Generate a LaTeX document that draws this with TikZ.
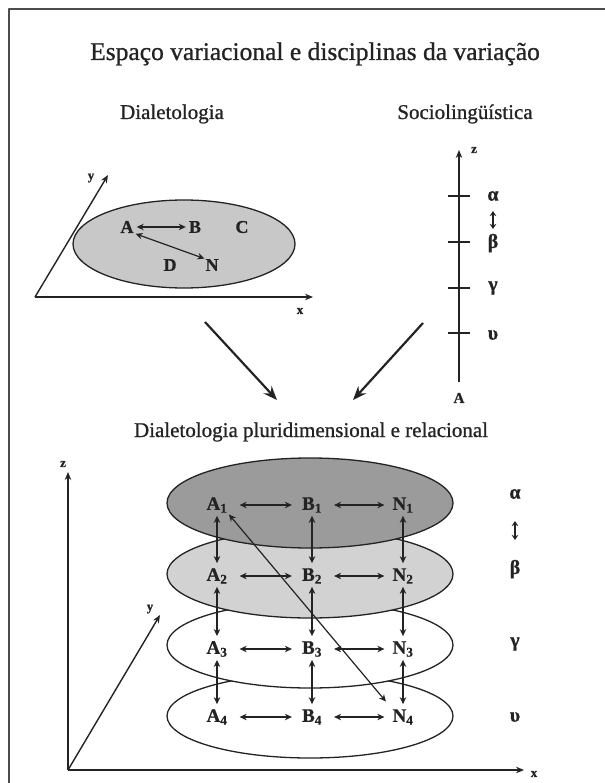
\documentclass[tikz,border=0pt]{standalone}
\usepackage{fontspec}
\setmainfont{Liberation Serif}[FakeBold=0.9]
\usetikzlibrary{arrows.meta}
\definecolor{inkc}{RGB}{35,35,35}
\definecolor{fillA}{RGB}{200,200,200}
\definecolor{fillB}{RGB}{155,155,155}
\definecolor{fillC}{RGB}{210,210,210}
\begin{document}
\begin{tikzpicture}[x=1pt,y=-1pt,line join=round,
  ln/.style={draw=inkc,line width=1.3pt},
  axis/.style={draw=inkc,line width=1.4pt,-{Stealth[length=8pt,width=6.5pt]}},
  dtip/.style={draw=inkc,line width=1.2pt,{Stealth[length=7pt,width=6.5pt]}-{Stealth[length=7pt,width=6.5pt]}},
  bigarrow/.style={draw=inkc,line width=2.2pt,-{Stealth[length=14pt,width=11pt,inset=5pt]}},
  lab/.style={font=\fontsize{19}{19}\selectfont\bfseries,inner sep=0pt,text=inkc},
  axlab/.style={font=\fontsize{13}{13}\selectfont\bfseries,inner sep=0pt,text=inkc},
  greek/.style={font=\fontsize{20}{20}\selectfont\bfseries,inner sep=0pt,text=inkc},
  head/.style={font=\fontsize{21}{21}\selectfont,inner sep=0pt,text=inkc,anchor=base},
  elp/.style={draw=inkc,line width=1.3pt}]
\useasboundingbox (0,0) rectangle (604,783);
% frame
\coordinate (f1) at (9,790);
\coordinate (f2) at (9,9);
\coordinate (f3) at (610,9);
\draw[draw=black!70,line width=1.5pt] (f1) -- (f2) -- (f3);

% titles
\node[head,font=\fontsize{25.5}{25.5}\selectfont] (title) at (315,60) {Espaço variacional e disciplinas da variação};
\node[head] (dial) at (172,119) {Dialetologia};
\node[head] (socio) at (465,119) {Sociolingüística};

% ---- Dialetologia diagram
\coordinate (o1) at (35,297);
\coordinate (x1) at (313,297);
\coordinate (y1) at (108,175);
\path[elp,fill=fillA] (184,244) ellipse [x radius=111pt,y radius=44pt];
\draw[axis] (o1) -- (x1);
\draw[axis] (o1) -- (y1);
\node[axlab] (x1l) at (300,311) {x};
\node[axlab] (y1l) at (91,178) {y};
\node[lab,font=\fontsize{18}{18}\selectfont\bfseries] (a) at (127,227) {A};
\node[lab,font=\fontsize{18}{18}\selectfont\bfseries] (b) at (195,227) {B};
\node[lab,font=\fontsize{18}{18}\selectfont\bfseries] (c) at (242,227) {C};
\node[lab,font=\fontsize{18}{18}\selectfont\bfseries] (d) at (170,265) {D};
\node[lab,font=\fontsize{18}{18}\selectfont\bfseries] (n) at (212,265) {N};
\draw[dtip,shorten <=3pt,shorten >=3pt] (a) -- (b);
\draw[dtip,shorten <=2pt,shorten >=1pt] (a.south east) -- (n.north west);

% ---- Sociolinguistica axis
\coordinate (zb) at (459,382);
\coordinate (zt) at (459,150);
\draw[axis] (zb) -- (zt);
\node[axlab] (zl) at (474,150) {z};
\node[axlab,font=\fontsize{15}{15}\selectfont\bfseries] (abot) at (459,398) {A};
\foreach \yy/\nm in {196/ta,242/tb,288/tc,333/td}{
  \coordinate (\nm l) at (448,\yy);
  \coordinate (\nm r) at (470,\yy);
  \draw[ln] (\nm l) -- (\nm r);
}
\node[greek] (alpha1) at (493,196) {α};
\coordinate (ua) at (493,211);
\coordinate (ub) at (493,229);
\draw[draw=inkc,line width=1.5pt,{Stealth[length=5pt,width=6.5pt]}-{Stealth[length=5pt,width=6.5pt]}] (ua) -- (ub);
\node[greek] (beta1) at (493,243) {β};
\node[greek] (gamma1) at (493,288) {γ};
\node[greek] (ups1) at (493,335) {υ};

% big arrows
\coordinate (ba1) at (205,322);
\coordinate (ba2) at (277,400);
\coordinate (bb1) at (423,323);
\coordinate (bb2) at (353,400);
\draw[bigarrow] (ba1) -- (ba2);
\draw[bigarrow] (bb1) -- (bb2);

\node[head] (dpr) at (311,437) {Dialetologia pluridimensional e relacional};

% ---- lower diagram
\path[elp,fill=white] (310,716) ellipse [x radius=143pt,y radius=42pt];
\path[elp,fill=white] (310,645) ellipse [x radius=143pt,y radius=43pt];
\path[elp,fill=fillC] (310,574) ellipse [x radius=143pt,y radius=44pt];
\path[elp,fill=fillB] (310,503) ellipse [x radius=143pt,y radius=45pt];

\coordinate (o2) at (68,770);
\coordinate (z2) at (68,472);
\coordinate (x2) at (524,770);
\coordinate (y2) at (160,615);
\draw[axis] (o2) -- (z2);
\draw[axis] (o2) -- (x2);
\draw[axis] (o2) -- (y2);
\node[axlab] (z2l) at (63,464) {z};
\node[axlab] (x2l) at (534,774) {x};
\node[axlab] (y2l) at (150,609) {y};

\foreach \r/\yy in {1/505,2/576,3/649,4/717}{
  \node[lab] (A\r) at (217,\yy) {A\textsubscript{\r}};
  \node[lab] (B\r) at (312,\yy) {B\textsubscript{\r}};
  \node[lab] (N\r) at (403,\yy) {N\textsubscript{\r}};
  \draw[dtip,shorten <=12pt,shorten >=10pt] (A\r) -- (B\r);
  \draw[dtip,shorten <=12pt,shorten >=8pt] (B\r) -- (N\r);
}
\foreach \c in {A,B,N}{
  \draw[dtip,shorten <=3pt,shorten >=5pt] (\c1.south) -- (\c2.north);
  \draw[dtip,shorten <=3pt,shorten >=5pt] (\c2.south) -- (\c3.north);
  \draw[dtip,shorten <=3pt,shorten >=5pt] (\c3.south) -- (\c4.north);
}
\draw[dtip,shorten <=2pt,shorten >=10pt] (A1.south east) -- (N4.north west);

\node[greek] (alpha2) at (515,494) {α};
\coordinate (va) at (515,521);
\coordinate (vb) at (515,540);
\draw[draw=inkc,line width=1.5pt,{Stealth[length=5pt,width=6.5pt]}-{Stealth[length=5pt,width=6.5pt]}] (va) -- (vb);
\node[greek] (beta2) at (515,569) {β};
\node[greek] (gamma2) at (515,644) {γ};
\node[greek] (ups2) at (515,717) {υ};
\end{tikzpicture}
\end{document}
